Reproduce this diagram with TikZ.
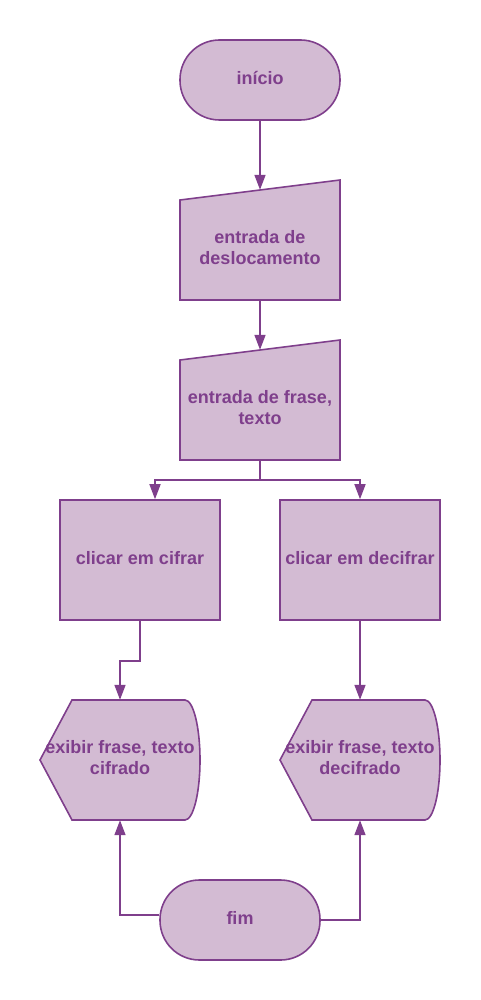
\documentclass[tikz,border=0pt]{standalone}
\usepackage{fontspec}
\setmainfont{Liberation Sans}
\usetikzlibrary{arrows.meta}
\definecolor{lilac}{HTML}{D3BBD3}
\definecolor{plum}{HTML}{7F3F8C}
\tikzset{
  shapeline/.style={draw=plum, line width=1.6pt, fill=lilac},
  terminal/.style={shapeline, rounded corners=39.5pt, minimum width=160pt, minimum height=80pt},
  procbox/.style={shapeline, minimum width=160pt, minimum height=120pt},
  plaintext/.style={inner sep=0pt, minimum width=160pt, align=center},
  flow/.style={draw=plum, line width=1.6pt, -{Triangle[width=11pt,length=15pt]}}
}
\begin{document}
\begin{tikzpicture}[x=1pt, y=-1pt, every node/.style={text=plum, text depth=4.5pt, font=\fontsize{18}{21}\selectfont\bfseries}]
    \useasboundingbox (0,0) rectangle (480,1000);
    % start and inputs
    \node [terminal] (start) at (260,80) {início};
    \filldraw [shapeline] (180,300) -- (340,300) -- (340,180) -- (180,200) -- cycle;
    \node [plaintext, minimum height=100pt] (shift) at (260,250) {entrada de\\deslocamento};
    \filldraw [shapeline] (180,460) -- (340,460) -- (340,340) -- (180,360) -- cycle;
    \node [plaintext, minimum height=100pt] (phrase) at (260,410) {entrada de frase,\\texto};
    % the two choices
    \node [procbox] (cipher) at (140,560) {clicar em cifrar};
    \node [procbox] (decipher) at (360,560) {clicar em decifrar};
    % outputs
    \filldraw [shapeline] (40,760) -- (72,700) -- (185,700) arc (-90:90:15 and 60) -- (72,820) -- cycle;
    \node [plaintext, minimum height=120pt] (showc) at (120,760) {exibir frase, texto\\cifrado};
    \filldraw [shapeline] (280,760) -- (312,700) -- (425,700) arc (-90:90:15 and 60) -- (312,820) -- cycle;
    \node [plaintext, minimum height=120pt] (showd) at (360,760) {exibir frase, texto\\decifrado};
    \node [terminal] (end) at (240,920) {fim};
    % connectors
    \coordinate (split) at (260,480);
    \draw [flow] (start.south) -- ([yshift=10pt]shift.north);
    \draw [flow] (shift.south) -- ([yshift=10pt]phrase.north);
    \draw [flow] (phrase.south) -- (split) -| ([xshift=15pt]cipher.north);
    \draw [flow] (split) -| (decipher.north);
    \draw [flow] (cipher.south) -- ++(0,40) -| (showc.north);
    \draw [flow] (decipher.south) -- (showd.north);
    \draw [flow] ([yshift=5pt]end.west) -| (showc.south);
    \draw [flow] (end.east) -| (showd.south);
\end{tikzpicture}
\end{document}
